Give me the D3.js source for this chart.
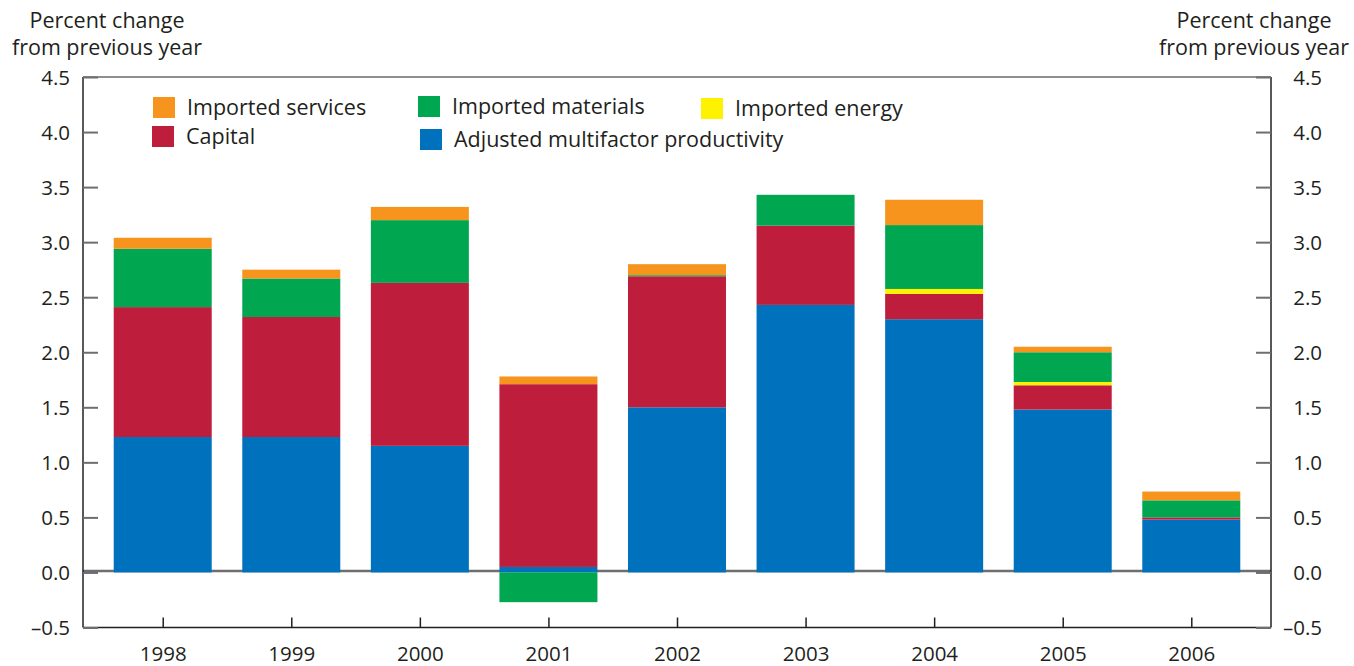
<!DOCTYPE html>
<html><head><meta charset="utf-8">
<script src="https://cdn.jsdelivr.net/npm/d3@7"></script>
<style>
body{margin:0;background:#fff;}
text{font-family:"Open Sans","Noto Sans",sans-serif;fill:#231f20;}
</style></head>
<body><svg id="c" width="1354" height="666"></svg>
<script>
const years = ["1998","1999","2000","2001","2002","2003","2004","2005","2006"];
const mfp       = [1.23, 1.23, 1.15, 0.05, 1.50, 2.43, 2.30, 1.48, 0.48];
const capital   = [1.18, 1.09, 1.48, 1.66, 1.19, 0.72, 0.23, 0.22, 0.02];
const energy    = [0.00, 0.00, 0.00, 0.00, 0.00, 0.00, 0.045, 0.03, 0.00];
const materials = [0.53, 0.35, 0.57, -0.27, 0.01, 0.28, 0.58, 0.27, 0.155];
const services  = [0.10, 0.08, 0.12, 0.07, 0.10, 0.00, 0.23, 0.05, 0.08];
const yTicks = [-0.5,0,0.5,1,1.5,2,2.5,3,3.5,4,4.5];
const keys = ["mfp","capital","energy","materials","services"];
const colors = {mfp:"#0071bc",capital:"#be1e3c",energy:"#fff200",materials:"#00a650",services:"#f7941d"};
const legendItems = [
  {key:"services",label:"Imported services"},
  {key:"capital",label:"Capital"},
  {key:"materials",label:"Imported materials"},
  {key:"mfp",label:"Adjusted multifactor productivity"},
  {key:"energy",label:"Imported energy"}
];

const rows = years.map((y,i)=>({year:y,mfp:mfp[i],capital:capital[i],energy:energy[i],materials:materials[i],services:services[i]}));
const svg = d3.select("#c");
const L=83,R=1271,T=77,B=627.5;
const x = d3.scalePoint().domain(years).range([L,R]).padding(0.62);
const y = d3.scaleLinear().domain([-0.5,4.5]).range([B,T]);
const bw = 98;

// zero line
svg.append("line").attr("x1",L).attr("x2",R).attr("y1",y(0)-1.5).attr("y2",y(0)-1.5)
  .attr("stroke","#6d6e71").attr("stroke-width",2.5);

const series = d3.stack().keys(keys).offset(d3.stackOffsetDiverging)(rows);
svg.append("g").selectAll("g").data(series).join("g").attr("fill",d=>colors[d.key])
  .selectAll("rect").data(d=>d.filter(p=>p[1]!==p[0])).join("rect")
  .attr("x",d=>x(d.data.year)-bw/2).attr("width",bw)
  .attr("y",d=>y(Math.max(d[0],d[1]))).attr("height",d=>Math.abs(y(d[0])-y(d[1])));

// frame
const frame = svg.append("g").attr("fill","none").attr("stroke","#231f20");
frame.append("line").attr("x1",L).attr("x2",R).attr("y1",T).attr("y2",T).attr("stroke-width",1.2);
frame.append("line").attr("x1",L).attr("x2",L).attr("y1",T).attr("y2",B).attr("stroke-width",1.5);
frame.append("line").attr("x1",R).attr("x2",R).attr("y1",T).attr("y2",B).attr("stroke-width",1.5);
frame.append("line").attr("x1",L).attr("x2",R).attr("y1",B).attr("y2",B).attr("stroke-width",1.5);

const fmt = d=> d<0 ? "\u2013"+Math.abs(d).toFixed(1) : d.toFixed(1);
// left axis
const la = svg.append("g").attr("transform",`translate(${L},0)`)
  .call(d3.axisRight(y).tickValues(yTicks).tickSize(15).tickFormat(fmt));
la.select(".domain").remove();
la.selectAll(".tick line").attr("stroke","#6d6e71").attr("stroke-width",2);
la.selectAll(".tick text").attr("x",-13).attr("text-anchor","end").attr("dy","0.36em")
  .style("font-size","20.5px").attr("fill","#231f20");
// right axis
const ra = svg.append("g").attr("transform",`translate(${R},0)`)
  .call(d3.axisLeft(y).tickValues(yTicks).tickSize(15).tickFormat(fmt));
ra.select(".domain").remove();
ra.selectAll(".tick line").attr("stroke","#6d6e71").attr("stroke-width",2);
ra.selectAll(".tick text").attr("x",51).attr("text-anchor","end").attr("dy","0.36em")
  .style("font-size","20.5px").attr("fill","#231f20");
// x axis
const xa = svg.append("g").attr("transform",`translate(0,${B})`)
  .call(d3.axisTop(x).tickSize(10).tickFormat(d=>d));
xa.select(".domain").remove();
xa.selectAll(".tick line").attr("stroke","#231f20").attr("stroke-width",1.5);
xa.selectAll(".tick text").attr("y",33).attr("dy",0).style("font-size","20.5px").attr("fill","#231f20");

// axis titles
function title(cx, lines){
  const t = svg.append("text").attr("text-anchor","middle").style("font-size","21.5px");
  lines.forEach((s,i)=>t.append("tspan").attr("x",cx).attr("y",28+i*27).text(s));
}
title(107,["Percent change","from previous year"]);
title(1254,["Percent change","from previous year"]);

// legend
const legPos = {services:[153,97],capital:[152,126],materials:[418,96],mfp:[420,129],energy:[701,98]};
const lg = svg.append("g");
legendItems.forEach(it=>{
  const [lx,ly]=legPos[it.key];
  lg.append("rect").attr("x",lx).attr("y",ly).attr("width",22).attr("height",21).attr("fill",colors[it.key]);
  lg.append("text").attr("x",lx+34).attr("y",ly+18).style("font-size","21.5px").text(it.label);
});
</script></body></html>
